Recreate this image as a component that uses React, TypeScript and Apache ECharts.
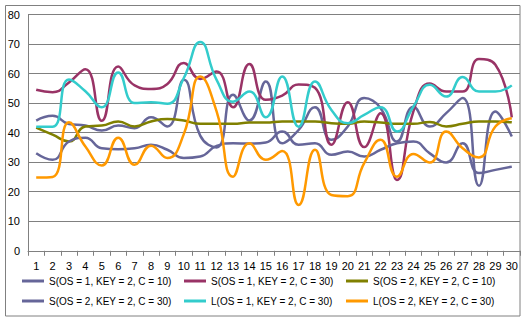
import React, { useEffect, useRef } from "react";
import * as echarts from "echarts";

const categories = Array.from({ length: 30 }, (_, i) => String(i + 1));

const names = [
  "S(OS = 1, KEY = 2, C = 10)",
  "S(OS = 1, KEY = 2, C = 30)",
  "S(OS = 2, KEY = 2, C = 10)",
  "S(OS = 2, KEY = 2, C = 30)",
  "L(OS = 1, KEY = 2, C = 30)",
  "L(OS = 2, KEY = 2, C = 30)",
];

const colors = ["#666699", "#993366", "#808000", "#666699", "#33CCCC", "#FF9900"];

const s1c10 = [44.1, 45.7, 42.9, 42.4, 40.7, 42.4, 41.5, 45.2, 42.1, 57.9, 39, 35, 52.8, 44.1, 57.3, 36.4, 40.9, 48.6, 37.6, 42.1, 51.7, 48.3, 37, 48.8, 42.1, 46.6, 51.7, 22, 47.2, 38.7];
const s1c30 = [54.5, 53.7, 57, 61.5, 44, 62.4, 56, 54.8, 56.5, 63.6, 58.2, 60.7, 48.6, 63.2, 51.1, 52.5, 56.3, 55.2, 35.9, 50.3, 35.1, 46.6, 24, 47.2, 56.6, 53.9, 53.9, 64.9, 63, 45.2];
const s2c10 = [41.7, 39.3, 37, 42.1, 42.4, 43.8, 42.1, 43.8, 44.6, 44.1, 43, 43, 43, 43.4, 43.4, 43.8, 43.8, 43.8, 43.2, 43, 43.8, 43.4, 43, 43, 43.6, 42.1, 43, 43.8, 43.8, 43.5];
const s2c30 = [33, 30.8, 37, 38.3, 34.7, 34.4, 34.7, 35.9, 34.2, 31.4, 31.9, 35.5, 36.4, 36.3, 36.7, 40.4, 35.9, 36.4, 32.5, 33.6, 31.9, 34.2, 36.4, 37, 33, 29.9, 36.4, 26.3, 27.4, 28.5];
const l1c30 = [42, 42, 58, 54, 48.6, 60.4, 50, 50.3, 49.8, 58.5, 70.7, 57.9, 50.5, 53.9, 45.2, 59, 42, 57.3, 47.7, 43.2, 46, 48.6, 40.4, 48.8, 56.2, 52.2, 58.8, 53.9, 53.9, 56];
const l2c30 = [24.8, 25, 43.5, 35.3, 28.9, 38.3, 29.1, 35.6, 31.4, 39.5, 59, 47.2, 25.1, 36.4, 30.8, 33.8, 15.5, 34.2, 18.9, 18.5, 29.7, 37.6, 25.1, 32.8, 29.9, 40.4, 34.7, 31.6, 42.1, 44.9];

const seriesData = [s1c10, s1c30, s2c10, s2c30, l1c30, l2c30];

const legendPos = [
  { left: 22, top: 276 },
  { left: 184, top: 276 },
  { left: 346, top: 276 },
  { left: 22, top: 296 },
  { left: 184, top: 296 },
  { left: 346, top: 296 },
];

export default function App() {
  const ref = useRef<HTMLDivElement>(null);
  useEffect(() => {
    if (!ref.current) return;
    const chart = echarts.init(ref.current, null, { renderer: "svg" });
    const font = "Liberation Sans, Arial, sans-serif";
    chart.setOption({
      animation: false,
      backgroundColor: "#ffffff",
      graphic: [
        {
          type: "rect",
          shape: { x: 5.5, y: 5.5, width: 514.5, height: 310.5 },
          style: { fill: "none", stroke: "#808080", lineWidth: 1 },
          silent: true,
          z: 0,
        },
      ],
      grid: { left: 28, right: 6, top: 14.5, bottom: 73.2, containLabel: false },
      xAxis: {
        type: "category",
        data: categories,
        boundaryGap: true,
        axisLine: { show: true, lineStyle: { color: "#808080", width: 1 } },
        axisTick: { show: true, length: 5, lineStyle: { color: "#808080" } },
        axisLabel: { color: "#000", fontSize: 11, fontFamily: font, margin: 10, interval: 0 },
        splitLine: { show: false },
      },
      yAxis: {
        type: "value",
        min: 0,
        max: 80,
        interval: 10,
        axisLine: { show: true, lineStyle: { color: "#808080", width: 1 } },
        axisTick: { show: false },
        axisLabel: { color: "#000", fontSize: 11, fontFamily: font, margin: 8 },
        splitLine: { show: true, lineStyle: { color: "#808080", width: 1 } },
      },
      legend: names.map((n, i) => ({
        data: [n],
        left: legendPos[i].left,
        top: legendPos[i].top,
        padding: 0,
        icon: "rect",
        itemWidth: 22,
        itemHeight: 3,
        textStyle: { color: "#000", fontSize: 10, fontFamily: font },
        selectedMode: false,
      })),
      series: names.map((n, i) => ({
        name: n,
        type: "line",
        data: seriesData[i],
        smooth: 0.5,
        showSymbol: false,
        symbol: "none",
        color: colors[i],
        lineStyle: { color: colors[i], width: 2.5 },
        z: 2 + i,
      })),
    });
    return () => chart.dispose();
  }, []);
  return <div ref={ref} style={{ width: 526, height: 324, position: "absolute", left: 0, top: 0 }} />;
}
